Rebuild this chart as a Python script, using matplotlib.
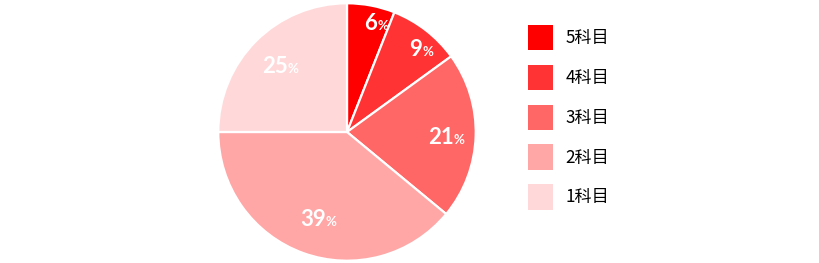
import numpy as np
import matplotlib
matplotlib.use('Agg')
import matplotlib.pyplot as plt
from matplotlib.patches import Patch

plt.rcParams['font.family'] = ['Noto Sans CJK JP', 'DejaVu Sans']

# data
labels = ['5科目', '4科目', '3科目', '2科目', '1科目']
shares = [6, 9, 21, 39, 25]
colors = ['#ff0000', '#ff3333', '#ff6666', '#ffa6a6', '#ffd9d9']
label_r = [0.88, 0.84, 0.76, 0.70, 0.75]

fig = plt.figure(figsize=(8.2, 2.63), dpi=100)
ax = fig.add_axes([217 / 820, 1 / 263, 260 / 820, 260 / 263])

wedges, _ = ax.pie(shares, colors=colors, startangle=90, counterclock=False,
                   radius=1.0,
                   wedgeprops=dict(edgecolor='white', linewidth=1.6))
ax.set_xlim(-1.01, 1.01)
ax.set_ylim(-1.01, 1.01)
ax.set_aspect('equal')
ax.axis('off')

for w, v, r in zip(wedges, shares, label_r):
    ang = np.deg2rad((w.theta1 + w.theta2) / 2)
    x, y = r * np.cos(ang), r * np.sin(ang)
    ax.text(x + 0.07, y - 0.07, str(v), ha='right', va='baseline', color='white',
            fontsize=16, family='Lato', fontweight='bold')
    ax.text(x + 0.07, y - 0.07, '%', ha='left', va='baseline', color='white',
            fontsize=9.5, family='Lato', fontweight='bold')

handles = [Patch(facecolor=c, edgecolor='none') for c in colors]
fig.legend(handles, labels, loc='upper left', bbox_to_anchor=(528 / 820, 1 - 25 / 263),
           frameon=False, fontsize=12.3, handlelength=1.46, handleheight=1.9,
           handletextpad=0.75, labelspacing=0.85, borderaxespad=0, borderpad=0)

fig.savefig('out.png', dpi=100)
